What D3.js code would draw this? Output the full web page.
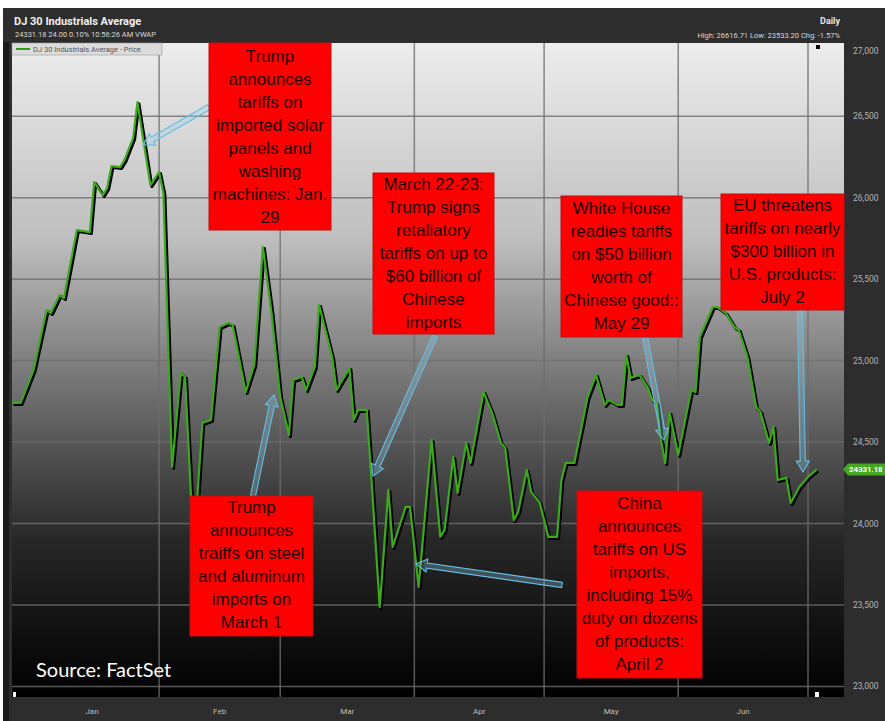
<!DOCTYPE html>
<html>
<head>
<meta charset="utf-8">
<script src="https://cdn.jsdelivr.net/npm/d3@7"></script>
<style>
  body { margin: 0; background: #fff; }
  svg { display: block; }
</style>
</head>
<body>
<svg id="chart"></svg>
<script>
// DJIA daily closes
var dates = [
  "2017-12-29", "2017-12-31", "2018-01-03", "2018-01-04", "2018-01-06", "2018-01-07",
  "2018-01-09", "2018-01-10", "2018-01-13", "2018-01-16", "2018-01-17", "2018-01-19",
  "2018-01-20", "2018-01-21", "2018-01-23", "2018-01-24", "2018-01-26", "2018-01-27",
  "2018-01-28", "2018-01-30", "2018-02-01", "2018-02-02", "2018-02-04", "2018-02-06",
  "2018-02-07", "2018-02-09", "2018-02-11", "2018-02-13", "2018-02-15", "2018-02-17",
  "2018-02-18", "2018-02-21", "2018-02-23", "2018-02-25", "2018-02-27", "2018-03-01",
  "2018-03-03", "2018-03-04", "2018-03-06", "2018-03-07", "2018-03-09", "2018-03-10",
  "2018-03-13", "2018-03-14", "2018-03-17", "2018-03-18", "2018-03-19", "2018-03-21",
  "2018-03-22", "2018-03-24", "2018-03-26", "2018-03-27", "2018-03-30", "2018-03-31",
  "2018-04-02", "2018-04-05", "2018-04-07", "2018-04-08", "2018-04-10", "2018-04-11",
  "2018-04-13", "2018-04-14", "2018-04-17", "2018-04-19", "2018-04-21", "2018-04-22",
  "2018-04-24", "2018-04-25", "2018-04-27", "2018-04-28", "2018-04-30", "2018-05-02",
  "2018-05-04", "2018-05-05", "2018-05-06", "2018-05-08", "2018-05-11", "2018-05-13",
  "2018-05-15", "2018-05-16", "2018-05-18", "2018-05-19", "2018-05-20", "2018-05-21",
  "2018-05-23", "2018-05-25", "2018-05-26", "2018-05-27", "2018-05-28", "2018-05-29",
  "2018-05-30", "2018-06-01", "2018-06-04", "2018-06-05", "2018-06-06", "2018-06-09",
  "2018-06-10", "2018-06-12", "2018-06-14", "2018-06-15", "2018-06-17", "2018-06-19",
  "2018-06-20", "2018-06-22", "2018-06-23", "2018-06-24", "2018-06-26", "2018-06-27",
  "2018-06-29", "2018-07-01", "2018-07-03"
];
var closes = [
  24740, 24740, 24942, 25065, 25310, 25292,
  25402, 25384, 25801, 25789, 26096, 26016,
  26059, 26194, 26188, 26231, 26366, 26586,
  26415, 26077, 26157, 26028, 24347, 24924,
  24899, 23838, 24617, 24636, 25206, 25231,
  25218, 24807, 24973, 25697, 25292, 24776,
  24543, 24881, 24899, 24819, 24961, 25341,
  25022, 24819, 24954, 24636, 24697, 24697,
  24310, 23488, 24206, 23856, 24102, 24102,
  23611, 24513, 23918, 23961, 24408, 24188,
  24494, 24372, 24807, 24678, 24494, 24464,
  24022, 24071, 24329, 24194, 24126, 23918,
  23918, 24267, 24372, 24372, 24770, 24912,
  24728, 24758, 24728, 24728, 25034, 24893,
  24912, 24832, 24758, 24740, 24513, 24372,
  24678, 24421, 24819, 24807, 25145, 25329,
  25329, 25292, 25206, 25188, 25022, 24715,
  24685, 24494, 24593, 24267, 24280, 24126,
  24224, 24286, 24331
];
var yTicks = [23000, 23500, 24000, 24500, 25000, 25500, 26000, 26500, 27000];
var monthNames = ["Jan", "Feb", "Mar", "Apr", "May", "Jun"];
var monthStarts = ["2018-01-01", "2018-02-01", "2018-03-01", "2018-04-01", "2018-05-01", "2018-06-01", "2018-07-01"];
var lastPrice = 24331.18;
var noteTexts = [
  ["Trump", "announces", "tariffs on", "imported solar", "panels and", "washing", "machines: Jan.", "29"],
  ["March 22-23:", "Trump signs", "retaliatory", "tariffs on up to", "$60 billion of", "Chinese", "imports"],
  ["White House", "readies tariffs", "on $50 billion", "worth of", "Chinese good::", "May 29"],
  ["EU threatens", "tariffs on nearly", "$300 billion in", "U.S. products:", "July 2"],
  ["Trump", "announces", "traiffs on steel", "and aluminum", "imports on", "March 1"],
  ["China", "announces", "tariffs on US", "imports,", "including 15%", "duty on dozens", "of products:", "April 2"]
];

// layout (pixels)
var W = 885, H = 721;
var plot = { left: 12, right: 844, top: 43, bottom: 697 };
var boxes = [
  { x0: 209, x1: 331, y0: 43, y1: 230, first: 56 },
  { x0: 373, x1: 494, y0: 173, y1: 334, first: 184 },
  { x0: 561, x1: 682, y0: 196, y1: 337, first: 208 },
  { x0: 721, x1: 844, y0: 194, y1: 310, first: 205 },
  { x0: 190, x1: 313, y0: 496, y1: 636, first: 507 },
  { x0: 577, x1: 702, y0: 491, y1: 678, first: 503 }
];
var arrows = [
  [209, 107, 143, 145],
  [253, 496, 274, 395],
  [435, 336, 373, 476],
  [562, 585, 416, 564],
  [645, 337, 664, 440],
  [800, 310, 803, 472]
];

var parse = d3.timeParse("%Y-%m-%d");
var pts = dates.map(function(d, i) { return { date: parse(d), v: closes[i] }; });

var x = d3.scaleTime()
  .domain([parse("2017-12-29"), parse("2018-07-01")])
  .range([12, 808]);
var y = d3.scaleLinear()
  .domain([23500, 26500])
  .range([605, 116.2]);

var svg = d3.select("#chart").attr("width", W).attr("height", H);
var defs = svg.append("defs");

var grad = defs.append("linearGradient")
  .attr("id", "bg").attr("x1", 0).attr("x2", 0).attr("y1", 0).attr("y2", 1);
[["0%", "#ededed"], ["30%", "#bebebe"], ["55%", "#6a6a6a"], ["76%", "#272727"], ["100%", "#000"]]
  .forEach(function(s) { grad.append("stop").attr("offset", s[0]).attr("stop-color", s[1]); });

defs.append("clipPath").attr("id", "plotclip").append("rect")
  .attr("x", plot.left).attr("y", plot.top)
  .attr("width", plot.right - plot.left).attr("height", plot.bottom - plot.top);

// frame
svg.append("rect").attr("x", 3).attr("y", 8).attr("width", W - 3).attr("height", H - 8).attr("fill", "#2d2d2d");
svg.append("rect").attr("x", 3).attr("y", 42).attr("width", 6).attr("height", H - 42).attr("fill", "#1a1a1a");
svg.append("rect")
  .attr("x", plot.left).attr("y", plot.top)
  .attr("width", plot.right - plot.left).attr("height", plot.bottom - plot.top)
  .attr("fill", "url(#bg)");

// header
svg.append("text").attr("x", 14).attr("y", 25)
  .attr("font-family", "Roboto, sans-serif").attr("font-size", 11).attr("font-weight", "bold")
  .attr("fill", "#f0f0f0").text("DJ 30 Industrials Average");
svg.append("text").attr("x", 15).attr("y", 37)
  .attr("font-family", "Roboto, sans-serif").attr("font-size", 7.5)
  .attr("fill", "#d8d8d8").text("24331.18 24.00 0.10% 10:56:26 AM VWAP");
svg.append("text").attr("x", 840).attr("y", 24).attr("text-anchor", "end")
  .attr("font-family", "Roboto, sans-serif").attr("font-size", 9).attr("font-weight", "bold")
  .attr("fill", "#e8e8e8").text("Daily");
svg.append("text").attr("x", 840).attr("y", 38).attr("text-anchor", "end")
  .attr("font-family", "Roboto, sans-serif").attr("font-size", 7.5)
  .attr("fill", "#d8d8d8").text("High: 26616.71 Low: 23533.20 Chg: -1.57%");

// grid
var g = svg.append("g").attr("clip-path", "url(#plotclip)");
g.selectAll(".hgrid").data(yTicks).enter().append("line")
  .attr("x1", plot.left).attr("x2", plot.right)
  .attr("y1", function(d) { return y(d); }).attr("y2", function(d) { return y(d); })
  .attr("stroke", "#6e6e6e").attr("stroke-width", 1.5).attr("opacity", 0.8);
g.selectAll(".vgrid").data(monthStarts.slice(1)).enter().append("line")
  .attr("x1", function(d) { return x(parse(d)); }).attr("x2", function(d) { return x(parse(d)); })
  .attr("y1", plot.top).attr("y2", plot.bottom)
  .attr("stroke", "#6e6e6e").attr("stroke-width", 1.5).attr("opacity", 0.8);

// legend
svg.append("rect").attr("x", 12).attr("y", 43).attr("width", 150).attr("height", 12)
  .attr("fill", "#dcdcdc").attr("stroke", "#9a9a9a").attr("stroke-width", 0.6);
svg.append("line").attr("x1", 16).attr("x2", 30).attr("y1", 49).attr("y2", 49)
  .attr("stroke", "#2f9e12").attr("stroke-width", 2);
svg.append("text").attr("x", 33).attr("y", 52)
  .attr("font-family", "Roboto, sans-serif").attr("font-size", 7.5)
  .attr("fill", "#555").text("DJ 30 Industrials Average - Price");

// price line
var line = d3.line().x(function(d) { return x(d.date); }).y(function(d) { return y(d.v); });
g.append("path").datum(pts).attr("d", line)
  .attr("transform", "translate(1.5,1.5)")
  .attr("fill", "none").attr("stroke", "#000").attr("stroke-width", 3)
  .attr("stroke-linejoin", "round");
g.append("path").datum(pts).attr("d", line)
  .attr("fill", "none").attr("stroke", "#3aaa18").attr("stroke-width", 2.2)
  .attr("stroke-linejoin", "round");

// end markers
svg.append("rect").attr("x", 816).attr("y", 45).attr("width", 4).attr("height", 4).attr("fill", "#000");
svg.append("rect").attr("x", 815).attr("y", 692).attr("width", 4).attr("height", 5).attr("fill", "#fff");
svg.append("rect").attr("x", 13).attr("y", 692).attr("width", 3).attr("height", 5).attr("fill", "#fff");

// arrows
function arrowPath(a) {
  var x1 = a[0], y1 = a[1], x2 = a[2], y2 = a[3];
  var dx = x2 - x1, dy = y2 - y1, len = Math.sqrt(dx * dx + dy * dy);
  var ux = dx / len, uy = dy / len, nx = -uy, ny = ux;
  var sw = 2.6, hw = 6.5, hl = 11;
  var bx = x2 - ux * hl, by = y2 - uy * hl;
  var p = [
    [x1 + nx * sw, y1 + ny * sw], [bx + nx * sw, by + ny * sw], [bx + nx * hw, by + ny * hw],
    [x2, y2], [bx - nx * hw, by - ny * hw], [bx - nx * sw, by - ny * sw], [x1 - nx * sw, y1 - ny * sw]
  ];
  return "M" + p.map(function(q) { return q[0].toFixed(1) + "," + q[1].toFixed(1); }).join("L") + "Z";
}
svg.selectAll(".arrow").data(arrows).enter().append("path")
  .attr("d", arrowPath)
  .attr("fill", "rgba(140,210,240,0.3)").attr("stroke", "#67bde2").attr("stroke-width", 1.1);

// annotation boxes
boxes.forEach(function(b, i) {
  svg.append("rect").attr("x", b.x0).attr("y", b.y0)
    .attr("width", b.x1 - b.x0).attr("height", b.y1 - b.y0)
    .attr("fill", "#ff0000").attr("stroke", "#c01010").attr("stroke-width", 1);
  svg.append("g").selectAll("text").data(noteTexts[i]).enter().append("text")
    .attr("x", (b.x0 + b.x1) / 2)
    .attr("y", function(d, j) { return b.first + j * 23; })
    .attr("dy", "0.35em").attr("text-anchor", "middle")
    .attr("font-family", "'Liberation Sans', Arial, sans-serif").attr("font-size", 17)
    .attr("fill", "#1c0000").text(function(d) { return d; });
});

// source
svg.append("text").attr("x", 36).attr("y", 677)
  .attr("font-family", "Lato, sans-serif").attr("font-size", 20)
  .attr("fill", "#fff").text("Source: FactSet");

// right axis labels
svg.selectAll(".ylab").data(yTicks).enter().append("text")
  .attr("x", 853)
  .attr("y", function(d) { return Math.max(51, Math.min(696, y(d))); })
  .attr("dy", "0.35em")
  .attr("font-family", "Roboto, sans-serif").attr("font-size", 8.5)
  .attr("fill", "#b4b4b4").text(function(d) { return d3.format(",")(d); });

// last price tag
var ty = y(lastPrice);
svg.append("path")
  .attr("d", "M843," + ty + "L848," + (ty - 6) + "L885," + (ty - 6) + "L885," + (ty + 6) + "L848," + (ty + 6) + "Z")
  .attr("fill", "#45a722");
svg.append("text").attr("x", 849).attr("y", ty).attr("dy", "0.35em")
  .attr("font-family", "Roboto, sans-serif").attr("font-size", 7.8).attr("font-weight", "bold")
  .attr("fill", "#fff").text(d3.format(".2f")(lastPrice));

// month labels
var ms = monthStarts.map(parse);
svg.selectAll(".mlab").data(monthNames).enter().append("text")
  .attr("x", function(d, i) { return (Math.max(plot.left, x(ms[i])) + x(ms[i + 1])) / 2; })
  .attr("y", 711).attr("dy", "0.35em").attr("text-anchor", "middle")
  .attr("font-family", "Roboto, sans-serif").attr("font-size", 8)
  .attr("fill", "#bdbdbd").text(function(d) { return d; });
</script>
</body>
</html>
